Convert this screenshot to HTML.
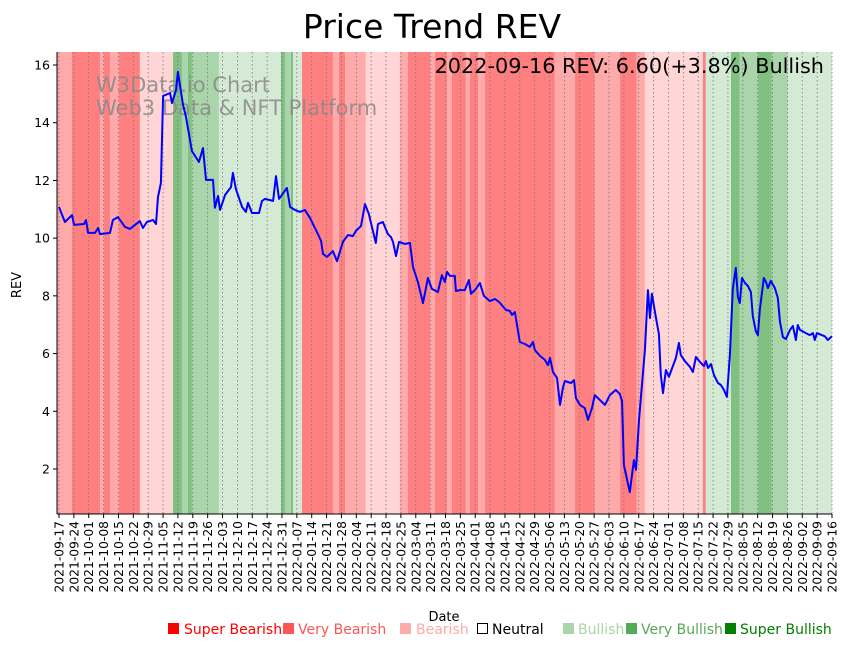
<!DOCTYPE html>
<html><head><meta charset="utf-8"><style>
body{margin:0;background:#fff;}
svg text{font-family:"DejaVu Sans","Liberation Sans",sans-serif;}
</style></head><body>
<svg id="chart" width="849" height="646" xmlns="http://www.w3.org/2000/svg">
<rect width="849" height="646" fill="#fff"/>
<g id="bands"></g>
<g id="grid"></g>
<text x="96" y="92" font-size="21" fill="#888" fill-opacity="0.85">W3Data.io Chart</text>
<text x="96" y="115" font-size="21" fill="#888" fill-opacity="0.85">Web3 Data &amp; NFT Platform</text>
<path id="line" fill="none" stroke="#0000ff" stroke-width="2" stroke-linejoin="round"/>
<g id="axes"></g>
<text x="432" y="38" font-size="33" text-anchor="middle">Price Trend REV</text>
<text x="824" y="73" font-size="20.8" text-anchor="end">2022-09-16 REV: 6.60(+3.8%) Bullish</text>
<text x="21" y="285" font-size="13" text-anchor="middle" transform="rotate(-90 21 285)">REV</text>
<text x="444" y="621" font-size="13" text-anchor="middle">Date</text>
<g font-size="14">
<rect x="168" y="623" width="11" height="11" fill="#ff0000"/>
<text x="184" y="634" fill="#ff0000">Super Bearish</text>
<rect x="283" y="623" width="11" height="11" fill="#ff5555"/>
<text x="298" y="634" fill="#ff5555">Very Bearish</text>
<rect x="400" y="623" width="11" height="11" fill="#ffaaaa"/>
<text x="416" y="634" fill="#ffaaaa">Bearish</text>
<rect x="477.5" y="623.5" width="10" height="10" fill="none" stroke="#000"/>
<text x="492" y="634" fill="#000">Neutral</text>
<rect x="563" y="623" width="11" height="11" fill="#aad4aa"/>
<text x="578" y="634" fill="#aad4aa">Bullish</text>
<rect x="626" y="623" width="11" height="11" fill="#55aa55"/>
<text x="641" y="634" fill="#55aa55">Very Bullish</text>
<rect x="725" y="623" width="11" height="11" fill="#008000"/>
<text x="740" y="634" fill="#008000">Super Bullish</text>
</g>
</svg>
<script>
const priceDays=[0,2.8,6.1,7.1,11.8,12.7,13.7,16.9,18.4,19.3,24,25.4,27.8,31.1,33.4,38.1,39.5,41.4,44.3,45.7,46.6,48,49,52.3,53.2,55.1,56,58.4,59.8,62.6,65.9,67.8,69.2,72.5,73.4,74.9,75.8,78.2,81,81.9,83.3,86.2,88,89,90.9,94.2,95.6,97,100.8,102.2,103.6,107.3,108.8,111.1,113.5,115.8,118.2,121.9,123.4,124.3,126.2,129,130.9,133.7,136.1,138.4,139.8,142.2,144.1,145.9,149.2,150.2,152.5,154.9,156.3,157.3,158.7,160.1,162.9,165.3,166.7,169,171.4,173.7,175.6,177.5,178.4,180.3,181.7,182.7,184.1,186.4,186.9,188.8,191.1,193,194,196.3,198.2,200.1,202.9,205.3,207.2,210.5,212.3,213.3,214.7,217,219.4,221.7,223.2,224.1,226.5,228.8,230.2,231.2,232.6,234.5,235.9,237.3,238.2,241.1,242.5,243.4,245.3,247.6,249.1,251,252.3,254.7,257.1,259.4,262.2,264.1,265.1,266,268.8,270.7,271.7,273.1,275.9,277.3,278.3,279.2,281.1,282.5,283.4,284.4,285.8,287.2,289.1,290.5,291.9,292.8,294.7,297.1,298.5,299.9,301.8,303.7,304.6,305.6,307,308.4,310.3,311.7,313.1,314.5,315.9,317.3,318.7,319.7,320.6,321.6,323,324.4,325.8,326.7,328.1,329.1,330,331.9,332.9,333.8,335.2,336.2,337.1,338.5,339.5,340.9,342.3,344.2,345.6,347,347.9,348.9,351.7,353.6,355,355.9,356.9,359.2,360.6,362,364];
const priceValues=[11.08,10.56,10.8,10.46,10.49,10.63,10.18,10.18,10.35,10.14,10.18,10.63,10.73,10.39,10.32,10.59,10.35,10.56,10.63,10.49,11.43,11.91,14.93,15.03,14.68,15.13,15.76,14.62,14.2,13.02,12.64,13.12,12.02,12.02,11.05,11.46,10.98,11.5,11.77,12.26,11.7,11.08,10.91,11.22,10.87,10.87,11.29,11.36,11.29,12.15,11.36,11.74,11.08,10.98,10.91,10.98,10.7,10.14,9.9,9.45,9.35,9.55,9.2,9.87,10.11,10.07,10.25,10.42,11.18,10.84,9.83,10.49,10.56,10.14,10.04,9.87,9.38,9.87,9.8,9.83,9.0,8.48,7.75,8.62,8.24,8.17,8.13,8.72,8.48,8.83,8.69,8.69,8.17,8.2,8.2,8.55,8.07,8.24,8.45,8.0,7.82,7.89,7.79,7.51,7.48,7.34,7.44,6.4,6.33,6.23,6.4,6.12,5.92,5.78,5.6,5.85,5.36,5.16,4.22,4.81,5.05,4.98,5.08,4.46,4.22,4.11,3.7,4.11,4.56,4.39,4.22,4.56,4.74,4.6,4.36,2.14,1.2,2.31,1.97,3.7,6.12,8.2,7.23,8.07,7.23,6.68,5.26,4.63,5.43,5.19,5.57,5.85,6.37,5.95,5.74,5.54,5.36,5.88,5.71,5.57,5.74,5.5,5.64,5.26,4.98,4.91,4.74,4.5,5.95,8.24,8.97,7.96,7.75,8.62,8.45,8.34,8.13,7.3,6.78,6.64,7.51,8.62,8.48,8.27,8.52,8.38,8.27,7.93,7.09,6.57,6.5,6.82,6.96,6.47,6.99,6.82,6.71,6.64,6.71,6.47,6.71,6.64,6.6,6.47,6.6];
const bandStarts=[-1,6.1,19.3,21.2,24,28.2,38.1,53.7,57.9,60.7,62.6,75.3,104.5,106.4,109.2,110.2,114.4,129,131.8,134.7,144.5,160.5,164.3,174.7,177,182.7,185,191.6,193.5,197.3,200.6,233.5,243,252.3,264.1,272.1,275.9,303.2,304.6,316.4,320.6,329.1,335.7,343.2];
const bandLevels=[-1,-2,-1,-2,-1,-2,0,3,2,3,2,1,3,2,3,1,-2,-1,-2,-1,0,-1,-2,-1,-2,-1,-2,-1,-2,-1,-2,-1,-2,-1,-2,-1,0,-2,1,3,2,3,2,1];
const yTicks=[2,4,6,8,10,12,14,16];
const startDate=new Date(Date.UTC(2021,8,17));
const NS='http://www.w3.org/2000/svg';
const L=57,R=832,T=52,B=514;
function xS(d){return 59+d*(832-59)/364;}
function yS(v){return 469-(v-2)*(469-65)/14;}
const levelColor={'-2':'#ff8080','-1':'#ffaaaa','0':'#ffd5d5','1':'#d5ead5','2':'#aad4aa','3':'#80c080'};
function mk(tag,attrs,parent){const e=document.createElementNS(NS,tag);for(const k in attrs)e.setAttribute(k,attrs[k]);parent.appendChild(e);return e;}
const bands=document.getElementById('bands');
for(let i=0;i<bandStarts.length;i++){
  const x0=Math.max(L,xS(bandStarts[i]));
  const x1=i+1<bandStarts.length?xS(bandStarts[i+1]):R;
  const r=mk('rect',{x:x0,y:T,width:Math.max(0,x1-x0),height:B-T,fill:levelColor[bandLevels[i]]},bands);
  
  
}
const grid=document.getElementById('grid');
const axes=document.getElementById('axes');
for(let d=0;d<=364;d+=7){
  const x=xS(d);
  const g=mk('line',{x1:x,x2:x,y1:T,y2:B,stroke:'#777','stroke-width':0.8,'stroke-dasharray':'1.5,2.5'},grid);
  
  
  const t=mk('line',{x1:x,x2:x,y1:B,y2:B+4,stroke:'#000','stroke-width':1},axes);
  
  
  const dt=new Date(startDate.getTime()+d*86400000);
  const lab=dt.toISOString().slice(0,10);
  const tx=mk('text',{x:x+4.5,y:B+7,'font-size':12.3,'text-anchor':'end',transform:`rotate(-90 ${x+4.5} ${B+7})`},axes);
  tx.textContent=lab;
  
  
}
yTicks.forEach(v=>{
  const y=yS(v);
  const t=mk('line',{x1:L-4,x2:L,y1:y,y2:y,stroke:'#000'},axes);
  
  
  const tx=mk('text',{x:L-7,y:y+4.5,'font-size':12.5,'text-anchor':'end'},axes);
  tx.textContent=v;
  
  
});
const sl=mk('line',{x1:L,x2:L,y1:T,y2:B,stroke:'#000','stroke-width':1},axes);


const sb=mk('line',{x1:L,x2:R,y1:B,y2:B,stroke:'#000','stroke-width':1},axes);


document.getElementById('line').setAttribute('d',priceDays.map((d,i)=>(i?'L':'M')+xS(d).toFixed(1)+','+yS(priceValues[i]).toFixed(1)).join(''));
</script>
</body></html>
